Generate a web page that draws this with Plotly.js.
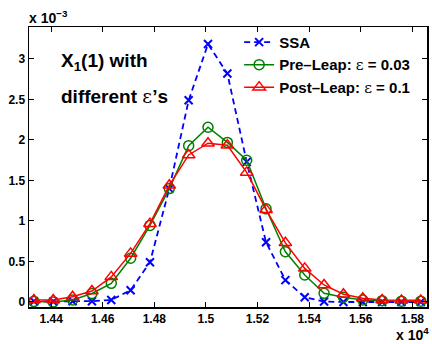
<!DOCTYPE html>
<html>
<head>
<meta charset="utf-8">
<script src="https://cdn.plot.ly/plotly-3.0.1.min.js"></script>
<style>html,body{margin:0;padding:0;background:#fff;}#chart{width:432px;height:344px;}</style>
</head>
<body>
<div id="chart"></div>
<script>
// x positions (time, raw units)
const xValues = [14333, 14408, 14483, 14558, 14633, 14708, 14783, 14858, 14933, 15008, 15083,
                 15158, 15233, 15308, 15383, 15458, 15533, 15608, 15683, 15758, 15833];
// values in units of 1e-3
const ssaValues = [0.01, 0.005, 0.01, 0.01, 0.025, 0.145, 0.49, 1.40, 2.49, 3.185, 2.82,
                   1.73, 0.737, 0.27, 0.058, 0.005, 0.0, 0.0, 0.0, 0.0, 0.0];
const preLeapValues = [0.005, 0.0, 0.025, 0.105, 0.23, 0.54, 0.945, 1.40, 1.93, 2.157, 1.97,
                       1.75, 1.15, 0.62, 0.333, 0.107, 0.058, 0.025, 0.016, 0.01, 0.01];
const postLeapValues = [0.025, 0.025, 0.065, 0.135, 0.31, 0.60, 0.967, 1.44, 1.815, 1.96, 1.935,
                        1.60, 1.14, 0.73, 0.415, 0.21, 0.095, 0.045, 0.025, 0.02, 0.02];
const seriesNames = ['SSA',
  'Pre\u2013Leap: <span style="font-family:\'DejaVu Serif\';font-weight:normal">\u03b5</span> = 0.03',
  'Post\u2013Leap: <span style="font-family:\'DejaVu Serif\';font-weight:normal">\u03b5</span> = 0.1'];
const xTickVals = [14400, 14600, 14800, 15000, 15200, 15400, 15600, 15800];
const xTickText = ['1.44', '1.46', '1.48', '1.5', '1.52', '1.54', '1.56', '1.58'];
const yTickVals = [0, 0.5, 1, 1.5, 2, 2.5, 3];
const yTickText = ['0', '0.5', '1', '1.5', '2', '2.5', '3'];

const traces = [
  {x: xValues, y: ssaValues, name: seriesNames[0], type: 'scatter', mode: 'lines+markers',
   line: {color: '#0000ff', width: 1.8, dash: '6px,4px'},
   marker: {symbol: 'x-thin-open', size: 8, color: '#0000ff', line: {color: '#0000ff', width: 2}}},
  {x: xValues, y: preLeapValues, name: seriesNames[1], type: 'scatter', mode: 'lines+markers',
   line: {color: '#008000', width: 1.5},
   marker: {symbol: 'circle-open', size: 10, color: '#008000', line: {color: '#008000', width: 1.5}}},
  {x: xValues, y: postLeapValues, name: seriesNames[2], type: 'scatter', mode: 'lines+markers',
   line: {color: '#ff0000', width: 1.5},
   marker: {symbol: 'triangle-up-open', size: 11, color: '#ff0000', line: {color: '#ff0000', width: 1.5}}}
];

const FAM = 'Liberation Sans, Arial, sans-serif';
const tickFont = {family: FAM, size: 12, color: '#000', weight: 'bold'};

const layout = {
  width: 432, height: 344,
  margin: {l: 29, r: 5, t: 27, b: 37, pad: 0},
  paper_bgcolor: '#fff', plot_bgcolor: '#fff',
  showlegend: true,
  legend: {x: 0.528, xanchor: 'left', y: 1.004, yanchor: 'top', bgcolor: 'rgba(0,0,0,0)',
           font: {family: FAM, size: 15, color: '#000', weight: 'bold'},
           tracegroupgap: 0, itemwidth: 30},
  xaxis: {range: [14314, 15857], showgrid: false, zeroline: false,
          tickvals: xTickVals, ticktext: xTickText, ticks: 'inside', ticklen: 5, tickwidth: 1,
          tickcolor: '#000', showline: true, linecolor: '#000', linewidth: 1.5, mirror: 'ticks',
          tickfont: tickFont},
  yaxis: {range: [-0.062, 3.395], showgrid: false, zeroline: false,
          tickvals: yTickVals, ticktext: yTickText, ticks: 'inside', ticklen: 5, tickwidth: 1,
          tickcolor: '#000', showline: true, linecolor: '#000', linewidth: 1.5, mirror: 'ticks',
          tickfont: tickFont},
  annotations: [
    {text: '<b>x 10<sup>\u22123</sup></b>', xref: 'paper', yref: 'paper', x: 0, y: 1, xanchor: 'left', yanchor: 'bottom',
     showarrow: false, font: {family: FAM, size: 14, color: '#000', weight: 'bold'}, yshift: -1, xshift: -2},
    {text: '<b>x 10<sup>4</sup></b>', xref: 'paper', yref: 'paper', x: 1, y: 0, xanchor: 'right', yanchor: 'top',
     showarrow: false, font: {family: FAM, size: 14, color: '#000', weight: 'bold'}, yshift: -16, xshift: 4}
    ,
    {text: 'X<sub>1</sub>(1) with', xref: 'paper', yref: 'paper', x: 0.075, y: 0.875, xanchor: 'left', yanchor: 'middle',
     showarrow: false, font: {family: FAM, size: 19, color: '#000', weight: 'bold'}},
    {text: 'different <span style="font-family:\'DejaVu Serif\';font-weight:normal">\u03b5</span>\u2019s', xref: 'paper', yref: 'paper', x: 0.075, y: 0.754, xanchor: 'left', yanchor: 'middle',
     showarrow: false, font: {family: FAM, size: 19, color: '#000', weight: 'bold'}}
  ]
};

Plotly.newPlot('chart', traces, layout, {displayModeBar: false, staticPlot: true});
</script>
</body>
</html>
